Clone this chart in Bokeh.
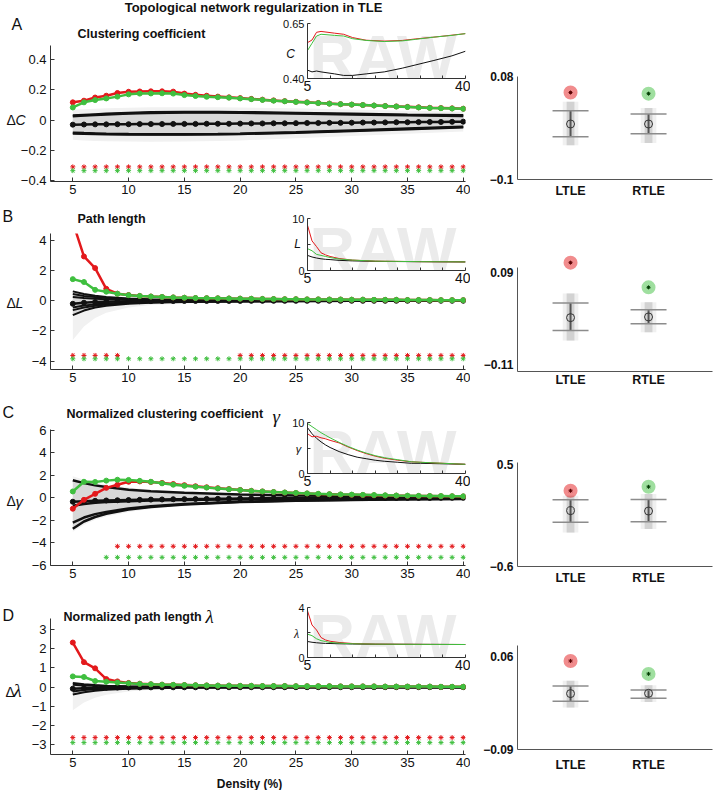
from bokeh.plotting import figure
from bokeh.models import Range1d, FixedTicker, CustomJSTickFormatter, Label, Column
from bokeh.embed import file_html
from bokeh.resources import INLINE

FONT = "Liberation Sans"
SERIF = "Liberation Serif"
RED = "#e3191c"
GREEN = "#3fbf3f"
BLACK = "#111111"
AXIS = "#333333"

# ---------------- data ----------------
density = list(range(5, 41))
groups = ["LTLE", "RTLE"]
group_pos = [1, 2]

# A: clustering coefficient (delta vs. healthy)
dC_ltle = [0.118, 0.129, 0.150, 0.162, 0.180, 0.188, 0.190, 0.191, 0.191, 0.189, 0.176, 0.168,
           0.162, 0.156, 0.151, 0.146, 0.141, 0.136, 0.131, 0.126, 0.122, 0.118, 0.114, 0.110,
           0.106, 0.103, 0.100, 0.097, 0.094, 0.091, 0.088, 0.085, 0.082, 0.080, 0.078, 0.076]
dC_rtle = [0.084, 0.118, 0.133, 0.144, 0.156, 0.171, 0.176, 0.177, 0.178, 0.176, 0.166, 0.160,
           0.155, 0.152, 0.149, 0.144, 0.139, 0.134, 0.129, 0.125, 0.121, 0.117, 0.113, 0.109,
           0.106, 0.103, 0.100, 0.097, 0.093, 0.090, 0.087, 0.084, 0.081, 0.079, 0.077, 0.075]
dC_null = [-0.030, -0.029, -0.028, -0.028, -0.027, -0.027, -0.026, -0.026, -0.026, -0.025, -0.025, -0.025,
           -0.024, -0.024, -0.024, -0.023, -0.022, -0.022, -0.021, -0.021, -0.020, -0.019, -0.019, -0.018,
           -0.018, -0.017, -0.016, -0.016, -0.015, -0.014, -0.014, -0.013, -0.012, -0.012, -0.011, -0.010]
envA_x = [5, 6, 7, 8, 10, 12, 15, 18, 20, 25, 30, 35, 40]
envA_hi1 = [0.030, 0.034, 0.038, 0.042, 0.048, 0.052, 0.054, 0.054, 0.053, 0.048, 0.042, 0.036, 0.032]
envA_hi2 = [0.026, 0.030, 0.034, 0.038, 0.044, 0.048, 0.050, 0.050, 0.049, 0.044, 0.038, 0.032, 0.027]
envA_lo1 = [-0.083, -0.086, -0.088, -0.090, -0.092, -0.093, -0.094, -0.092, -0.090, -0.080, -0.068, -0.056, -0.044]
envA_lo2 = [-0.088, -0.090, -0.092, -0.093, -0.095, -0.096, -0.096, -0.094, -0.092, -0.083, -0.072, -0.060, -0.048]
bandA_hi = [0.070, 0.072, 0.075, 0.078, 0.082, 0.085, 0.086, 0.085, 0.084, 0.078, 0.070, 0.062, 0.055]
bandA_lo = [-0.130, -0.135, -0.138, -0.140, -0.142, -0.143, -0.142, -0.138, -0.135, -0.120, -0.105, -0.090, -0.075]
sigA_ltle = list(density)
sigA_rtle = list(density)
insA_x = [5, 6, 7, 8, 11, 13, 15, 18, 22, 26, 29, 33, 37, 40]
insA_ltle = [0.563, 0.575, 0.610, 0.614, 0.606, 0.601, 0.586, 0.574, 0.570, 0.573, 0.580, 0.588, 0.597, 0.604]
insA_rtle = [0.527, 0.560, 0.593, 0.601, 0.596, 0.593, 0.581, 0.573, 0.568, 0.571, 0.578, 0.588, 0.596, 0.604]
insA_null = [0.438, 0.430, 0.434, 0.430, 0.421, 0.414, 0.414, 0.421, 0.430, 0.447, 0.462, 0.482, 0.503, 0.524]
rA_obs = [0.052, 0.050]
rA_mean = [-0.003, -0.003]
rA_ci_hi = [0.020, 0.0143]
rA_ci_lo = [-0.0253, -0.0201]
rA_cloud_hi = [0.036, 0.025]
rA_cloud_lo = [-0.040, -0.036]

# B: path length
dL_ltle = [5.20, 2.93, 2.16, 0.79, 0.47, 0.38, 0.32, 0.28, 0.25, 0.22, 0.20, 0.18,
           0.17, 0.16, 0.15, 0.14, 0.13, 0.12, 0.11, 0.10, 0.10, 0.09, 0.09, 0.08,
           0.08, 0.07, 0.07, 0.06, 0.06, 0.06, 0.05, 0.05, 0.05, 0.04, 0.04, 0.04]
dL_rtle = [1.43, 1.24, 0.72, 0.60, 0.46, 0.37, 0.32, 0.28, 0.25, 0.22, 0.20, 0.18,
           0.17, 0.16, 0.15, 0.14, 0.13, 0.12, 0.11, 0.10, 0.10, 0.09, 0.09, 0.08,
           0.08, 0.07, 0.07, 0.06, 0.06, 0.06, 0.05, 0.05, 0.05, 0.04, 0.04, 0.04]
dL_null = [-0.20, -0.13, -0.09, -0.06, -0.045, -0.035, -0.03, -0.025, -0.02, -0.018, -0.015, -0.013,
           -0.012, -0.011, -0.010, -0.009, -0.008, -0.007, -0.006, -0.006, -0.005, -0.005, -0.004, -0.004,
           -0.004, -0.003, -0.003, -0.003, -0.002, -0.002, -0.002, -0.002, -0.001, -0.001, -0.001, 0.0]
envB_x = [5, 6, 7, 8, 10, 12, 15, 20, 25, 30, 40]
envB_hi1 = [0.62, 0.45, 0.33, 0.25, 0.15, 0.10, 0.07, 0.04, 0.03, 0.02, 0.01]
envB_hi2 = [0.45, 0.32, 0.24, 0.18, 0.11, 0.07, 0.05, 0.03, 0.02, 0.015, 0.01]
envB_hi3 = [0.25, 0.18, 0.13, 0.10, 0.06, 0.04, 0.03, 0.02, 0.01, 0.01, 0.005]
envB_lo1 = [-0.45, -0.32, -0.24, -0.18, -0.11, -0.07, -0.05, -0.03, -0.02, -0.015, -0.01]
envB_lo2 = [-0.62, -0.45, -0.33, -0.25, -0.15, -0.10, -0.07, -0.04, -0.03, -0.02, -0.01]
envB_lo3 = [-0.95, -0.65, -0.45, -0.33, -0.20, -0.13, -0.09, -0.05, -0.035, -0.025, -0.015]
bandB_hi = [0.70, 0.50, 0.38, 0.30, 0.18, 0.12, 0.08, 0.05, 0.035, 0.025, 0.015]
bandB_lo = [-2.6, -1.7, -1.15, -0.80, -0.45, -0.28, -0.18, -0.10, -0.07, -0.05, -0.03]
sigB_ltle = [5, 6, 7, 8, 9] + list(range(20, 41))
sigB_rtle = list(density)
insB_x = [5, 6, 7, 8, 9, 10, 12, 15, 20, 25, 30, 40]
insB_ltle = [8.7, 5.7, 4.6, 3.4, 3.0, 2.7, 2.3, 2.0, 1.8, 1.75, 1.7, 1.65]
insB_rtle = [4.2, 3.8, 3.1, 2.9, 2.7, 2.5, 2.2, 2.0, 1.8, 1.75, 1.7, 1.65]
insB_null = [2.9, 2.6, 2.4, 2.25, 2.15, 2.1, 1.95, 1.85, 1.75, 1.72, 1.7, 1.65]
rB_obs = [0.1125, 0.0586]
rB_mean = [-0.0075, -0.006]
rB_ci_hi = [0.0246, 0.010]
rB_ci_lo = [-0.0358, -0.021]
rB_cloud_hi = [0.045, 0.026]
rB_cloud_lo = [-0.0575, -0.0395]

# C: normalized clustering coefficient gamma
dG_ltle = [-0.97, -0.18, 0.35, 0.88, 1.15, 1.42, 1.45, 1.40, 1.32, 1.22, 1.12, 1.02,
           0.93, 0.85, 0.77, 0.70, 0.62, 0.56, 0.51, 0.46, 0.42, 0.38, 0.34, 0.31,
           0.28, 0.26, 0.24, 0.22, 0.20, 0.19, 0.17, 0.16, 0.15, 0.14, 0.13, 0.12]
dG_rtle = [0.56, 1.42, 1.40, 1.52, 1.60, 1.58, 1.50, 1.42, 1.28, 1.16, 1.06, 0.98,
           0.90, 0.82, 0.75, 0.68, 0.61, 0.56, 0.51, 0.47, 0.43, 0.39, 0.35, 0.32,
           0.30, 0.28, 0.26, 0.24, 0.22, 0.20, 0.19, 0.17, 0.16, 0.15, 0.14, 0.13]
dG_null = [-0.35, -0.30, -0.27, -0.24, -0.22, -0.20, -0.18, -0.16, -0.15, -0.13, -0.12, -0.11,
           -0.10, -0.09, -0.08, -0.07, -0.06, -0.05, -0.05, -0.04, -0.04, -0.03, -0.03, -0.03,
           -0.02, -0.02, -0.02, -0.02, -0.01, -0.01, -0.01, -0.01, -0.01, 0.0, 0.0, 0.0]
envC_x = [5, 6, 7, 8, 10, 12, 15, 20, 25, 30, 35, 40]
envC_hi1 = [1.55, 1.30, 1.10, 0.95, 0.72, 0.58, 0.45, 0.30, 0.21, 0.16, 0.12, 0.10]
envC_mid = [-0.70, -0.55, -0.45, -0.38, -0.30, -0.25, -0.20, -0.12, -0.08, -0.06, -0.05, -0.04]
envC_lo1 = [-2.20, -1.75, -1.45, -1.25, -0.95, -0.75, -0.55, -0.35, -0.24, -0.17, -0.12, -0.09]
envC_lo2 = [-2.75, -2.10, -1.70, -1.42, -1.05, -0.82, -0.60, -0.38, -0.26, -0.19, -0.14, -0.10]
bandC_hi = [1.9, 1.6, 1.35, 1.15, 0.9, 0.72, 0.55, 0.38, 0.27, 0.20, 0.15, 0.12]
bandC_lo = [-3.0, -2.4, -1.95, -1.65, -1.25, -0.98, -0.72, -0.46, -0.32, -0.23, -0.17, -0.13]
sigC_ltle = list(range(9, 41))
sigC_rtle = list(range(8, 41))
insC_x = [5, 6, 7, 8, 9, 10, 12, 14, 16, 18, 20, 22, 25, 28, 30, 35, 40]
insC_ltle = [7.8, 7.2, 7.3, 7.0, 6.8, 6.5, 6.0, 5.2, 4.5, 3.9, 3.4, 3.0, 2.6, 2.3, 2.2, 2.0, 1.8]
insC_rtle = [9.8, 9.2, 8.6, 8.0, 7.5, 7.0, 6.1, 5.3, 4.6, 4.0, 3.5, 3.1, 2.7, 2.3, 2.2, 2.0, 1.8]
insC_null = [9.0, 7.8, 6.9, 6.2, 5.6, 5.1, 4.3, 3.7, 3.2, 2.9, 2.6, 2.4, 2.2, 2.0, 2.0, 1.9, 1.8]
rC_obs = [0.219, 0.262]
rC_mean = [0.004, 0.0]
rC_ci_hi = [0.121, 0.124]
rC_ci_lo = [-0.121, -0.117]
rC_cloud_hi = [0.166, 0.184]
rC_cloud_lo = [-0.231, -0.195]

# D: normalized path length lambda
dLam_ltle = [2.32, 1.30, 0.98, 0.42, 0.30, 0.22, 0.18, 0.15, 0.13, 0.12, 0.11, 0.10,
             0.09, 0.08, 0.08, 0.07, 0.07, 0.06, 0.06, 0.06, 0.05, 0.05, 0.05, 0.05,
             0.04, 0.04, 0.04, 0.04, 0.03, 0.03, 0.03, 0.03, 0.03, 0.02, 0.02, 0.02]
dLam_rtle = [0.56, 0.53, 0.32, 0.28, 0.24, 0.20, 0.17, 0.15, 0.13, 0.12, 0.11, 0.10,
             0.09, 0.08, 0.08, 0.07, 0.07, 0.06, 0.06, 0.06, 0.05, 0.05, 0.05, 0.05,
             0.04, 0.04, 0.04, 0.04, 0.03, 0.03, 0.03, 0.03, 0.03, 0.02, 0.02, 0.02]
dLam_null = [-0.08, -0.05, -0.035, -0.025, -0.02, -0.015, -0.012, -0.01, -0.008, -0.007, -0.006, -0.005,
             -0.005, -0.004, -0.004, -0.003, -0.003, -0.003, -0.002, -0.002, -0.002, -0.002, -0.001, -0.001,
             -0.001, -0.001, -0.001, -0.001, 0.0, 0.0, 0.0, 0.0, 0.0, 0.0, 0.0, 0.0]
envD_x = [5, 6, 7, 8, 10, 12, 15, 20, 30, 40]
envD_hi1 = [0.22, 0.15, 0.11, 0.08, 0.05, 0.03, 0.02, 0.01, 0.005, 0.0]
envD_hi2 = [0.12, 0.09, 0.07, 0.05, 0.03, 0.02, 0.01, 0.005, 0.0, 0.0]
envD_lo1 = [-0.22, -0.15, -0.11, -0.08, -0.05, -0.035, -0.02, -0.01, -0.005, 0.0]
envD_lo2 = [-0.38, -0.26, -0.19, -0.14, -0.08, -0.05, -0.03, -0.015, -0.007, -0.003]
bandD_hi = [0.30, 0.20, 0.15, 0.11, 0.07, 0.045, 0.03, 0.015, 0.008, 0.004]
bandD_lo = [-1.2, -0.8, -0.55, -0.40, -0.22, -0.14, -0.08, -0.04, -0.02, -0.01]
sigD_ltle = list(density)
sigD_rtle = list(density)
insD_x = [5, 6, 7, 8, 9, 10, 12, 15, 20, 30, 40]
insD_ltle = [3.73, 2.6, 2.2, 1.6, 1.4, 1.3, 1.2, 1.12, 1.07, 1.05, 1.04]
insD_rtle = [1.87, 1.75, 1.5, 1.35, 1.28, 1.2, 1.15, 1.1, 1.07, 1.05, 1.04]
insD_null = [1.28, 1.22, 1.18, 1.15, 1.13, 1.12, 1.1, 1.08, 1.06, 1.05, 1.04]
rD_obs = [0.0535, 0.0325]
rD_mean = [0.0006, 0.001]
rD_ci_hi = [0.013, 0.0065]
rD_ci_lo = [-0.0118, -0.007]
rD_cloud_hi = [0.0213, 0.014]
rD_cloud_lo = [-0.022, -0.013]

# ---------------- helpers ----------------
PLACE = []   # (figure, top, left) in page pixels
TEXTS = []   # overlay texts in page pixels


def no_align(fig):
    try:
        fig.frame_align = False
    except Exception:
        pass


def base_fig(width, height, xr, yr, **kw):
    fig = figure(width=width, height=height, x_range=Range1d(*xr), y_range=Range1d(*yr),
                 output_backend="svg", toolbar_location=None,
                 background_fill_color=None, border_fill_color=None, outline_line_color=None, **kw)
    no_align(fig)
    return fig


def mk_fig(left, top, width, height, fl, ft, fw, fh, xr, yr):
    fig = base_fig(width, height, xr, yr,
                   min_border_left=fl - left, min_border_right=left + width - fl - fw,
                   min_border_top=ft - top, min_border_bottom=top + height - ft - fh)
    fig.xgrid.visible = False
    fig.ygrid.visible = False
    PLACE.append((fig, top, left))
    return fig


def pixel_fig(left, top, width, height):
    """A figure without axes whose frame covers it entirely; data units == page pixels."""
    fig = base_fig(width, height, (left, left + width), (top + height, top),
                   x_axis_location=None, y_axis_location=None,
                   min_border=0, min_border_left=0, min_border_right=0,
                   min_border_top=0, min_border_bottom=0)
    fig.grid.visible = False
    PLACE.append((fig, top, left))
    return fig


def put(px, py, text, size, style="normal", align="left", baseline="middle", font=FONT, color="#111111"):
    TEXTS.append(dict(x=px, y=py, text=text, text_font_size=size, text_font_style=style,
                      text_align=align, text_baseline=baseline, text_font=font, text_color=color))


def style_axis(ax, size, bold=False, tick_in=0, tick_out=0, standoff=3, color=AXIS):
    ax.axis_line_color = color
    ax.axis_line_width = 1
    ax.major_tick_line_color = color
    ax.major_tick_in = tick_in
    ax.major_tick_out = tick_out
    ax.minor_tick_line_color = None
    ax.major_label_text_font = FONT
    ax.major_label_text_font_size = size
    ax.major_label_text_font_style = "bold" if bold else "normal"
    ax.major_label_text_color = "#111111"
    ax.major_label_standoff = standoff


def num_fmt(dec):
    return CustomJSTickFormatter(args=dict(d=dec), code="""
        if (Math.abs(tick) < 1e-9) { return '0'; }
        const s = Math.abs(tick).toFixed(d);
        return (tick < 0 ? '\\u2212' : '') + s;
    """)


def sel_fmt(dec, labeled):
    return CustomJSTickFormatter(args=dict(d=dec, lab=labeled), code="""
        for (const v of lab) { if (Math.abs(v - tick) < 1e-9) { return tick.toFixed(d); } }
        return '';
    """)


short_fmt = CustomJSTickFormatter(code="""
    const s = String(parseFloat(Math.abs(tick).toFixed(4)));
    return (tick < 0 ? '\\u2212' : '') + s;
""")


def main_panel(top, height, ft, yr, yticks, ydec, env_x, band_out, band_in, env_lines, env_w,
               null, ltle, rtle, sig_l, sig_r, lev_l, lev_r):
    fig = mk_fig(0, top, 470, height, 50, ft, 415, 136, (3, 40.2), yr)
    fig.varea(x=env_x, y1=band_out[0], y2=band_out[1], fill_color="#f1f1f1")
    fig.varea(x=env_x, y1=band_in[0], y2=band_in[1], fill_color="#d8d8d8")
    for ln in env_lines:
        fig.line(env_x, ln, line_color=BLACK, line_width=env_w)
    fig.line(density, null, line_color=BLACK, line_width=2.5)
    fig.scatter(density, null, size=5, color=BLACK)
    fig.line(density, ltle, line_color=RED, line_width=2.5)
    fig.scatter(density, ltle, size=5, color=RED)
    fig.line(density, rtle, line_color=GREEN, line_width=2.5)
    fig.scatter(density, rtle, size=5, color=GREEN)
    fig.scatter(sig_l, [lev_l] * len(sig_l), marker="asterisk", size=5, line_color=RED, line_width=1)
    fig.scatter(sig_r, [lev_r] * len(sig_r), marker="asterisk", size=5, line_color=GREEN, line_width=1)
    fig.xaxis.ticker = FixedTicker(ticks=list(range(5, 41, 5)))
    fig.yaxis.ticker = FixedTicker(ticks=yticks)
    fig.yaxis.formatter = num_fmt(ydec)
    style_axis(fig.xaxis[0], "13px", tick_in=4, standoff=3)
    style_axis(fig.yaxis[0], "13px", tick_in=4, standoff=4)
    return fig


def watermark(ft, fh):
    # light "RAW" watermark lying under the inset (drawn before it), with generous room around it;
    # its capitals span the inset frame's lower ~45 px
    top = max(0, ft - 40)
    wm = pixel_fig(288, top, 182, ft + fh + 40 - top)
    wm.add_layout(Label(x=309, y=ft + fh - 22, text="RAW", text_font=FONT, text_font_size="63px",
                        text_font_style="bold", text_color="#ebebeb", text_baseline="middle"))


def inset_panel(top, height, ft, fh, yr, yticks, ylabeled, ydec, xs, ltle, rtle, null):
    watermark(ft, fh)
    fig = mk_fig(262, top, 208, height, 307, ft, 158, fh, (5, 40), yr)
    fig.line(xs, null, line_color=BLACK, line_width=1)
    fig.line(xs, ltle, line_color=RED, line_width=1)
    fig.line(xs, rtle, line_color=GREEN, line_width=1)
    fig.xaxis.ticker = FixedTicker(ticks=list(range(5, 41, 5)))
    fig.xaxis.formatter = sel_fmt(0, [5, 40])
    fig.yaxis.ticker = FixedTicker(ticks=yticks)
    fig.yaxis.formatter = sel_fmt(ydec, ylabeled)
    style_axis(fig.xaxis[0], "14px", tick_in=3, standoff=2)
    style_axis(fig.yaxis[0], "11px", tick_in=3, standoff=3)
    return fig


def right_panel(top, height, ft, fh, yr, bounds, yticks, obs, mean, ci_hi, ci_lo, cl_hi, cl_lo, xstand):
    fig = mk_fig(470, top, 243, height, 517, ft, 195, fh, (0.32, 2.82), yr)
    fig.vbar(x=group_pos, top=cl_hi, bottom=cl_lo, width=0.2, fill_color="#f0f0f0", line_color=None)
    fig.vbar(x=group_pos, top=cl_hi, bottom=cl_lo, width=0.1, fill_color="#d2d2d2", line_color=None)
    fig.segment(x0=group_pos, x1=group_pos, y0=ci_lo, y1=ci_hi, line_color="#555555", line_width=2)
    fig.scatter(group_pos, ci_hi, marker="dash", size=36, line_color="#8c8c8c", line_width=1.5)
    fig.scatter(group_pos, ci_lo, marker="dash", size=36, line_color="#8c8c8c", line_width=1.5)
    fig.scatter(group_pos, mean, size=8, fill_color=None, line_color="#333333", line_width=1)
    fig.scatter(group_pos, obs, size=14, fill_color=[RED, GREEN], fill_alpha=0.5, line_color=None)
    fig.scatter(group_pos, obs, marker="asterisk", size=4, line_color=["#5a0000", "#003c00"], line_width=1)
    fig.xaxis.ticker = FixedTicker(ticks=group_pos)
    fig.xaxis.major_label_overrides = {p: g for p, g in zip(group_pos, groups)}
    fig.yaxis.ticker = FixedTicker(ticks=yticks)
    fig.yaxis.formatter = short_fmt
    if bounds is not None:
        fig.yaxis.bounds = bounds
    style_axis(fig.xaxis[0], "12.5px", bold=True, standoff=xstand, color="#555555")
    style_axis(fig.yaxis[0], "12px", bold=True, standoff=4, color="#555555")
    return fig


# ---------------- panel A ----------------
main_panel(0, 200, 45, (-0.407, 0.495), [-0.4, -0.2, 0, 0.2, 0.4], 1,
           envA_x, (bandA_lo, bandA_hi), (envA_lo2, envA_hi1),
           [envA_hi1, envA_hi2, envA_lo1, envA_lo2], 2.5,
           dC_null, dC_ltle, dC_rtle, sigA_ltle, sigA_rtle, -0.31, -0.335)
inset_panel(13, 83, 23, 55, (0.40, 0.65), [0.40, 0.65], [0.40, 0.65], 2,
            insA_x, insA_ltle, insA_rtle, insA_null)
right_panel(40, 160, 76, 105, (-0.1, 0.08), None, [-0.1, 0.08],
            rA_obs, rA_mean, rA_ci_hi, rA_ci_lo, rA_cloud_hi, rA_cloud_lo, 4)
put(253, 7, "Topological network regularization in TLE", "13px", style="bold", align="center")
put(11, 24, "A", "16px")
put(77, 33, "Clustering coefficient", "12.5px", style="bold")
put(6, 119, "Δ", "14px")
put(15, 119, "C", "14px", style="italic")
put(290, 53, "C", "12px", style="italic", align="center")

# ---------------- panel B ----------------
main_panel(200, 195, 233, (-4.55, 4.45), [-4, -2, 0, 2, 4], 0,
           envB_x, (bandB_lo, bandB_hi), (envB_lo3, envB_hi1),
           [envB_hi1, envB_hi2, envB_hi3, envB_lo1, envB_lo2, envB_lo3], 2,
           dL_null, dL_ltle, dL_rtle, sigB_ltle, sigB_rtle, -3.62, -3.84)
inset_panel(208, 82, 218, 52, (0, 10), [0, 5, 10], [0, 10], 0,
            insB_x, insB_ltle, insB_rtle, insB_null)
right_panel(240, 155, 250, 121, (-0.125, 0.139), (-0.125, 0.102), [-0.11, 0.09],
            rB_obs, rB_mean, rB_ci_hi, rB_ci_lo, rB_cloud_hi, rB_cloud_lo, 1)
put(2, 216, "B", "16px")
put(77, 218, "Path length", "12.5px", style="bold")
put(6, 302, "Δ", "14px")
put(15, 302, "L", "14px", style="italic")
put(297, 243, "L", "12px", style="italic", align="center")

# ---------------- panel C ----------------
main_panel(395, 195, 429, (-6, 6.05), [-6, -4, -2, 0, 2, 4, 6], 0,
           envC_x, (bandC_lo, bandC_hi), (envC_lo2, envC_hi1),
           [envC_hi1, envC_mid, envC_lo1, envC_lo2], 2.5,
           dG_null, dG_ltle, dG_rtle, sigC_ltle, sigC_rtle, -4.3, -5.28)
inset_panel(412, 80, 422, 51, (0, 10), [0, 5, 10], [0, 10], 0,
            insC_x, insC_ltle, insC_rtle, insC_null)
right_panel(440, 150, 462, 104, (-0.6, 0.525), None, [-0.6, 0.5],
            rC_obs, rC_mean, rC_ci_hi, rC_ci_lo, rC_cloud_hi, rC_cloud_lo, 4)
put(2, 412, "C", "16px")
put(66, 413, "Normalized clustering coefficient", "12.5px", style="bold")
put(272, 416, "γ", "19px", style="italic", font=SERIF)
put(6, 500, "Δ", "14px")
put(15, 501, "γ", "15px", style="italic")
put(298, 448, "γ", "11px", style="italic", align="center")

# ---------------- panel D ----------------
main_panel(590, 200, 618, (-3.5, 3.57), [-3, -2, -1, 0, 1, 2, 3], 0,
           envD_x, (bandD_lo, bandD_hi), (envD_lo2, envD_hi1),
           [envD_hi1, envD_hi2, envD_lo1, envD_lo2], 2,
           dLam_null, dLam_ltle, dLam_rtle, sigD_ltle, sigD_rtle, -2.62, -2.88)
inset_panel(597, 80, 607, 50, (0, 4), [0, 2, 4], [0, 4], 0,
            insD_x, insD_ltle, insD_rtle, insD_null)
right_panel(620, 170, 645, 104, (-0.09, 0.0785), None, [-0.09, 0.06],
            rD_obs, rD_mean, rD_ci_hi, rD_ci_lo, rD_cloud_hi, rD_cloud_lo, 8)
put(2, 615, "D", "16px")
put(63, 616, "Normalized path length", "12.5px", style="bold")
put(205, 616, "λ", "19px", style="italic", font=SERIF)
put(5, 691, "Δ", "14px")
put(13, 690, "λ", "19px", style="italic", font=SERIF)
put(249, 783, "Density (%)", "12px", style="bold", align="center")
put(296, 633, "λ", "12px", style="italic", align="center", font=SERIF)

# ---------------- text overlay (page pixel coordinates) ----------------
ov = pixel_fig(0, 0, 713, 790)
for t in TEXTS:
    ov.add_layout(Label(**t))

# ---------------- layout (absolute placement via margins) ----------------
children = []
prev_bottom = 0
for fig, top, left in PLACE:
    fig.margin = (int(top - prev_bottom), 0, 0, int(left))
    prev_bottom = top + fig.height
    children.append(fig)

root = Column(children=children, spacing=0)

open("out.html", "w").write(file_html(root, INLINE))
